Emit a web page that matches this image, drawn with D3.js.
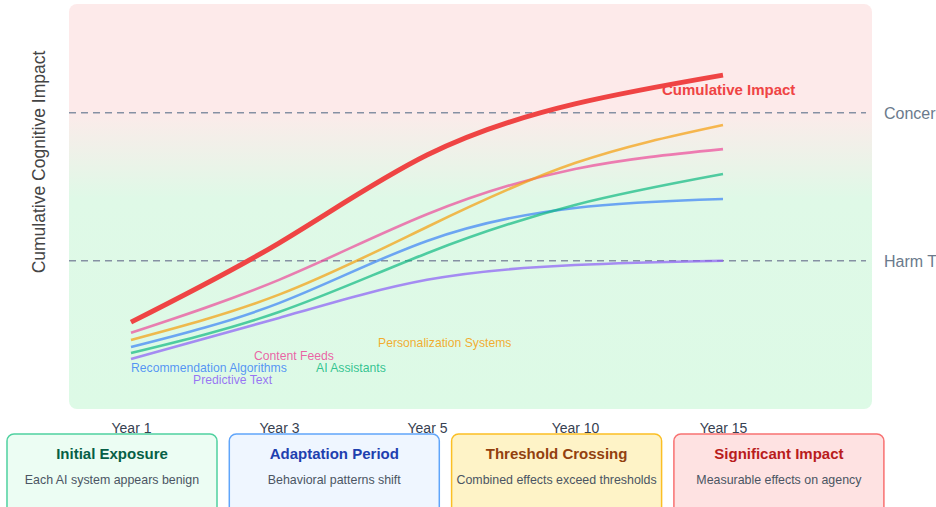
<!DOCTYPE html>
<html>
<head>
<meta charset="utf-8">
<script src="https://cdn.jsdelivr.net/npm/d3@7"></script>
<style>
  html, body { margin: 0; padding: 0; background: #ffffff; overflow: hidden; }
  svg { display: block; font-family: "Liberation Sans", Arial, Helvetica, sans-serif; }
</style>
</head>
<body>
<svg id="chart" width="936" height="507"></svg>
<script>
// Timeline categories
const years = ["Year 1", "Year 3", "Year 5", "Year 10", "Year 15"];

// Individual AI systems (impact score, 0-100)
const seriesNames = ["Content Feeds", "Personalization Systems", "Recommendation Algorithms", "AI Assistants", "Predictive Text"];
const contentFeeds = [23, 35.5, 51, 61.7, 66.4];
const personalization = [21.3, 32, 48, 63.1, 72.1];
const recommendation = [19.6, 30, 44.7, 52.5, 54.6];
const aiAssistants = [18.2, 27.9, 41.8, 53.2, 60.5];
const predictiveText = [16.8, 26.5, 35.5, 39, 40];

// Combined effect of all systems
const cumulative = [25.5, 44.2, 65, 77.1, 83.9];

// Reference thresholds
const thresholdNames = ["Harm Threshold", "Concern Threshold"];
const thresholdValues = [40, 75];

// Phase cards under the chart
const phaseTitles = ["Initial Exposure", "Adaptation Period", "Threshold Crossing", "Significant Impact"];
const phaseTexts = ["Each AI system appears benign", "Behavioral patterns shift", "Combined effects exceed thresholds", "Measurable effects on agency"];

// ---- styling ----
const seriesColors = ["#ec4899", "#f59e0b", "#3b82f6", "#10b981", "#8b5cf6"];
const seriesValues = [contentFeeds, personalization, recommendation, aiAssistants, predictiveText];
// label placement: x offset from first category, baseline y
const labelLayout = [
  { dx: 123, y: 360 },
  { dx: 247, y: 347 },
  { dx: 0,   y: 372 },
  { dx: 185, y: 372 },
  { dx: 62,  y: 384 }
];
const phaseStyles = [
  { fill: "#ecfdf3", stroke: "#4fd1a0", title: "#065f46" },
  { fill: "#eff6ff", stroke: "#60a5fa", title: "#1e40af" },
  { fill: "#fef3c7", stroke: "#fbbf24", title: "#92400e" },
  { fill: "#fee2e2", stroke: "#f87171", title: "#b91c1c" }
];

const svg = d3.select("#chart");
const plot = { x: 69, y: 4, w: 803, h: 405 };

const x = d3.scalePoint().domain(years).range([131, 723]);
const y = d3.scaleLinear().domain([0, 100]).range([430, 7]);

// background gradient: red zone on top fading to green zone
const defs = svg.append("defs");
const grad = defs.append("linearGradient")
  .attr("id", "zoneGrad").attr("x1", 0).attr("y1", 0).attr("x2", 0).attr("y2", 1);
grad.append("stop").attr("offset", "0%").attr("stop-color", "#fdeaea");
grad.append("stop").attr("offset", "26%").attr("stop-color", "#fdeaea");
grad.append("stop").attr("offset", "48%").attr("stop-color", "#dff9e7");
grad.append("stop").attr("offset", "100%").attr("stop-color", "#ddfae6");

svg.append("rect")
  .attr("x", plot.x).attr("y", plot.y)
  .attr("width", plot.w).attr("height", plot.h)
  .attr("rx", 8)
  .attr("fill", "url(#zoneGrad)");

// threshold lines
const thr = svg.append("g");
thresholdValues.forEach((v, i) => {
  thr.append("line")
    .attr("x1", plot.x).attr("x2", plot.x + plot.w - 6)
    .attr("y1", y(v)).attr("y2", y(v))
    .attr("stroke", "#8591a3").attr("stroke-width", 1.5)
    .attr("stroke-dasharray", "7,5");
  thr.append("text")
    .attr("x", 884).attr("y", y(v)).attr("dy", "0.36em")
    .attr("font-size", 16).attr("fill", "#6b7a8c")
    .text(thresholdNames[i]);
});

const line = d3.line()
  .x((d, i) => x(years[i]))
  .y(d => y(d))
  .curve(d3.curveNatural);

// individual system lines
seriesValues.forEach((vals, i) => {
  svg.append("path")
    .attr("d", line(vals))
    .attr("fill", "none")
    .attr("stroke", seriesColors[i])
    .attr("stroke-width", 2.6)
    .attr("stroke-opacity", 0.7);
});

// cumulative line
svg.append("path")
  .attr("d", line(cumulative))
  .attr("fill", "none")
  .attr("stroke", "#ef4444")
  .attr("stroke-width", 5);

svg.append("text")
  .attr("x", x(years[years.length - 1]) - 61)
  .attr("y", y(cumulative[cumulative.length - 1]) + 20)
  .attr("font-size", 15).attr("font-weight", "bold")
  .attr("fill", "#ef4444")
  .text("Cumulative Impact");

// series labels
seriesNames.forEach((name, i) => {
  svg.append("text")
    .attr("x", x(years[0]) + labelLayout[i].dx)
    .attr("y", labelLayout[i].y)
    .attr("font-size", 12.2)
    .attr("fill", seriesColors[i])
    .attr("fill-opacity", 0.85)
    .text(name);
});

// y-axis title
svg.append("text")
  .attr("transform", "translate(39,162) rotate(-90)")
  .attr("text-anchor", "middle").attr("dy", "0.35em")
  .attr("font-size", 17.5).attr("fill", "#444")
  .text("Cumulative Cognitive Impact");

// phase cards
const cardW = 210, cardStep = 222.3, cardY = 434;
const cards = svg.append("g");
phaseTitles.forEach((t, i) => {
  const cx = 7 + i * cardStep;
  const st = phaseStyles[i];
  cards.append("rect")
    .attr("x", cx).attr("y", cardY)
    .attr("width", cardW).attr("height", 82)
    .attr("rx", 7)
    .attr("fill", st.fill).attr("stroke", st.stroke).attr("stroke-width", 1.5);
  cards.append("text")
    .attr("x", cx + cardW / 2).attr("y", 459)
    .attr("text-anchor", "middle")
    .attr("font-size", 15).attr("font-weight", "bold")
    .attr("fill", st.title)
    .text(t);
  cards.append("text")
    .attr("x", cx + cardW / 2).attr("y", 484)
    .attr("text-anchor", "middle")
    .attr("font-size", 12.4)
    .attr("fill", "#4b5563")
    .text(phaseTexts[i]);
});

// x axis labels
const xAxis = svg.append("g")
  .attr("transform", "translate(0,420)")
  .call(d3.axisBottom(x).tickSize(0).tickPadding(0));
xAxis.select(".domain").remove();
xAxis.selectAll("text")
  .attr("font-size", 14)
  .attr("font-family", "'Liberation Sans', Arial, sans-serif")
  .attr("fill", "#374151")
  .attr("dy", "0.71em")
  .attr("y", 3);
</script>
</body>
</html>
